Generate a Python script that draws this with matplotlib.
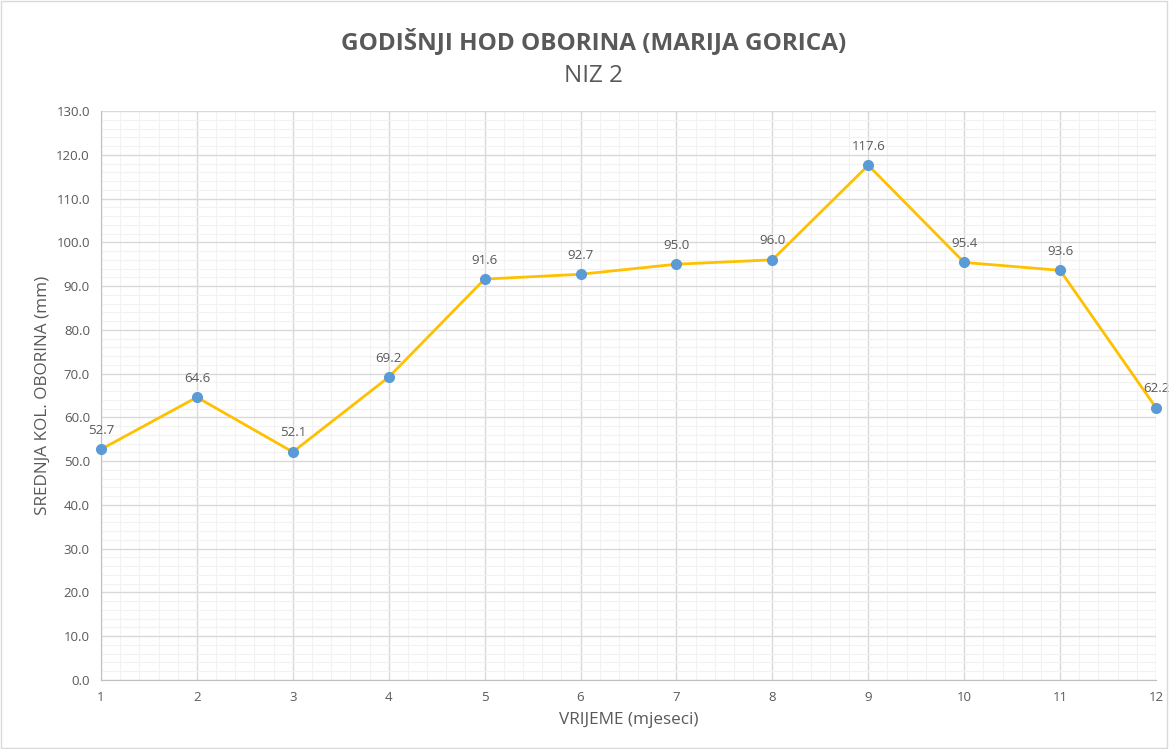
import matplotlib
matplotlib.use("Agg")
import matplotlib.pyplot as plt
from matplotlib.ticker import MultipleLocator, FormatStrFormatter
from matplotlib.patches import Rectangle

months = [1, 2, 3, 4, 5, 6, 7, 8, 9, 10, 11, 12]
precip = [52.7, 64.6, 52.1, 69.2, 91.6, 92.7, 95.0, 96.0, 117.6, 95.4, 93.6, 62.2]
title = "GODIŠNJI HOD OBORINA (MARIJA GORICA)"
subtitle = "NIZ 2"
xlabel = "VRIJEME (mjeseci)"
ylabel = "SREDNJA KOL. OBORINA (mm)"

plt.rcParams['font.family'] = ['Open Sans', 'DejaVu Sans']
txt = '#595959'

fig = plt.figure(figsize=(11.69, 7.49), dpi=100)
fig.patches.append(Rectangle((0.001, 0.001), 0.997, 0.997, transform=fig.transFigure,
                             fill=False, edgecolor='#d9d9d9', linewidth=1))
ax = fig.add_axes([101/1169, 69/749, (1156-101)/1169, (680-111)/749])

ax.set_xlim(1, 12)
ax.set_ylim(0, 130)
ax.xaxis.set_major_locator(MultipleLocator(1))
ax.xaxis.set_minor_locator(MultipleLocator(0.2))
ax.yaxis.set_major_locator(MultipleLocator(10))
ax.yaxis.set_minor_locator(MultipleLocator(2))
ax.yaxis.set_major_formatter(FormatStrFormatter('%.1f'))
ax.grid(which='major', color='#d9d9d9', linewidth=1)
ax.grid(which='minor', color='#f2f2f2', linewidth=0.8)
ax.set_axisbelow(True)
for s in ['top', 'right']:
    ax.spines[s].set_visible(False)
for s in ['left', 'bottom']:
    ax.spines[s].set_color('#bfbfbf')
ax.tick_params(which='both', length=0, colors=txt, labelsize=9.5, pad=8)

ax.plot(months, precip, color='#FFC000', linewidth=2, zorder=3, clip_on=False)
ax.plot(months, precip, linestyle='none', marker='o', markersize=7, color='#5B9BD5', zorder=4, clip_on=False)
for x, y in zip(months, precip):
    ax.annotate(f'{y:.1f}', (x, y), xytext=(0, 9), textcoords='offset points',
                ha='center', va='bottom', fontsize=9.5, color=txt)

ax.set_xlabel(xlabel, fontsize=12.3, color=txt, labelpad=6)
ax.set_ylabel(ylabel, fontsize=12.3, color=txt, labelpad=4)

fig.text(594/1169, 1 - 42/749, title, ha='center', va='center', fontsize=17.5, fontweight='bold', color=txt)
fig.text(594/1169, 1 - 76/749, subtitle, ha='center', va='center', fontsize=17.5, color=txt)

fig.savefig('out.png', dpi=100)
